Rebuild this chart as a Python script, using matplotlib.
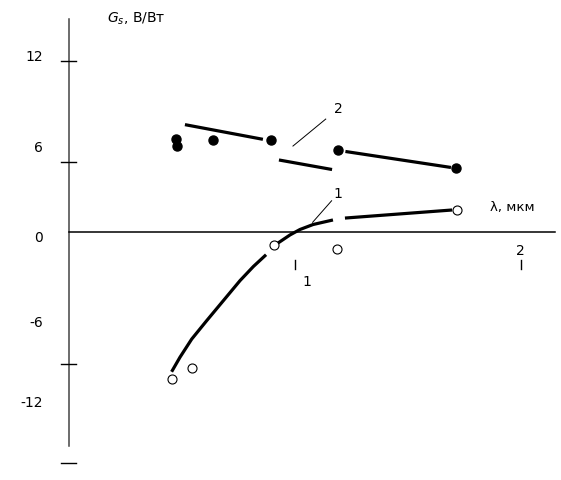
import numpy as np
import matplotlib
matplotlib.use('Agg')
import matplotlib.pyplot as plt

plt.rcParams['font.family'] = ['DejaVu Sans']

### кривая 2 (закрашенные точки), lambda в мкм, G в В/Вт
dots2_x = [0.473, 0.478, 0.637, 0.894, 1.190, 1.712]
dots2_y = [6.34, 5.83, 6.27, 6.27, 5.59, 4.36]
seg2 = [([0.513, 0.858], [7.32, 6.32]),
        ([0.929, 1.164], [4.91, 4.26]),
        ([1.223, 1.690], [5.49, 4.40])]

### кривая 1 (пустые точки)
dots1_x = [0.456, 0.544, 0.907, 1.186, 1.717]
dots1_y = [-10.02, -9.27, -0.89, -1.19, 1.50]
curve1a_x = [0.454, 0.491, 0.543, 0.609, 0.683, 0.757, 0.816, 0.872]
curve1a_y = [-9.53, -8.54, -7.30, -6.05, -4.68, -3.31, -2.35, -1.55]
curve1b_x = [0.925, 0.978, 1.022, 1.080, 1.168]
curve1b_y = [-0.75, -0.20, 0.17, 0.51, 0.82]
seg1 = ([1.221, 1.695], [0.95, 1.50])

### оси, метки
ytick_pos = [11.69, 4.77, -9.0, -15.75]
ylab_text = ['12', '6', '0', '-6', '-12']
ylab_pos = [12.0, 5.80, -0.31, -6.14, -11.59]
xtick_pos = [1.0, 2.0]

fig = plt.figure(figsize=(5.61, 4.81), dpi=100)
ax = fig.add_axes([0, 0, 1, 1])
ax.set_xlim(-0.3053, 2.177)
ax.set_ylim(-16.909, 15.886)
ax.axis('off')

# оси
ax.plot([0, 0], [14.52, -14.59], color='#444444', lw=1.1)
ax.plot([0, 2.15], [0, 0], color='black', lw=1.1)
for t in ytick_pos:
    ax.plot([-0.035, 0.031], [t, t], color='black', lw=1.0)
for t in xtick_pos:
    ax.plot([t, t], [-1.94, -2.52], color='black', lw=1.0)
for s, p in zip(ylab_text, ylab_pos):
    ax.text(-0.115, p, s, ha='right', va='center', fontsize=10)
ax.text(1.053, -3.34, '1', ha='center', va='center', fontsize=10)
ax.text(1.999, -1.23, '2', ha='center', va='center', fontsize=10)
ax.text(0.168, 14.59, r'$G_s$, В/Вт', ha='left', va='center', fontsize=10)
ax.text(1.863, 1.77, 'λ, мкм', ha='left', va='center', fontsize=9.5)

# кривая 2
for sx, sy in seg2:
    ax.plot(sx, sy, color='black', lw=2.3, solid_capstyle='butt')
ax.plot(dots2_x, dots2_y, 'o', color='black', ms=6.5, ls='none')
ax.plot([0.991, 1.136], [5.86, 7.70], color='black', lw=0.7)
ax.text(1.190, 8.45, '2', ha='center', va='center', fontsize=10)

# кривая 1
ax.plot(curve1a_x, curve1a_y, color='black', lw=2.3,
        solid_capstyle='butt', solid_joinstyle='round')
ax.plot(curve1b_x, curve1b_y, color='black', lw=2.3,
        solid_capstyle='butt', solid_joinstyle='round')
ax.plot(seg1[0], seg1[1], color='black', lw=2.3, solid_capstyle='butt')
ax.plot(dots1_x, dots1_y, 'o', mfc='white', mec='black', mew=0.8, ms=6.5, ls='none')
ax.plot([1.078, 1.162], [0.66, 2.13], color='black', lw=0.7)
ax.text(1.190, 2.66, '1', ha='center', va='center', fontsize=10)

plt.savefig('out.png', dpi=100)
